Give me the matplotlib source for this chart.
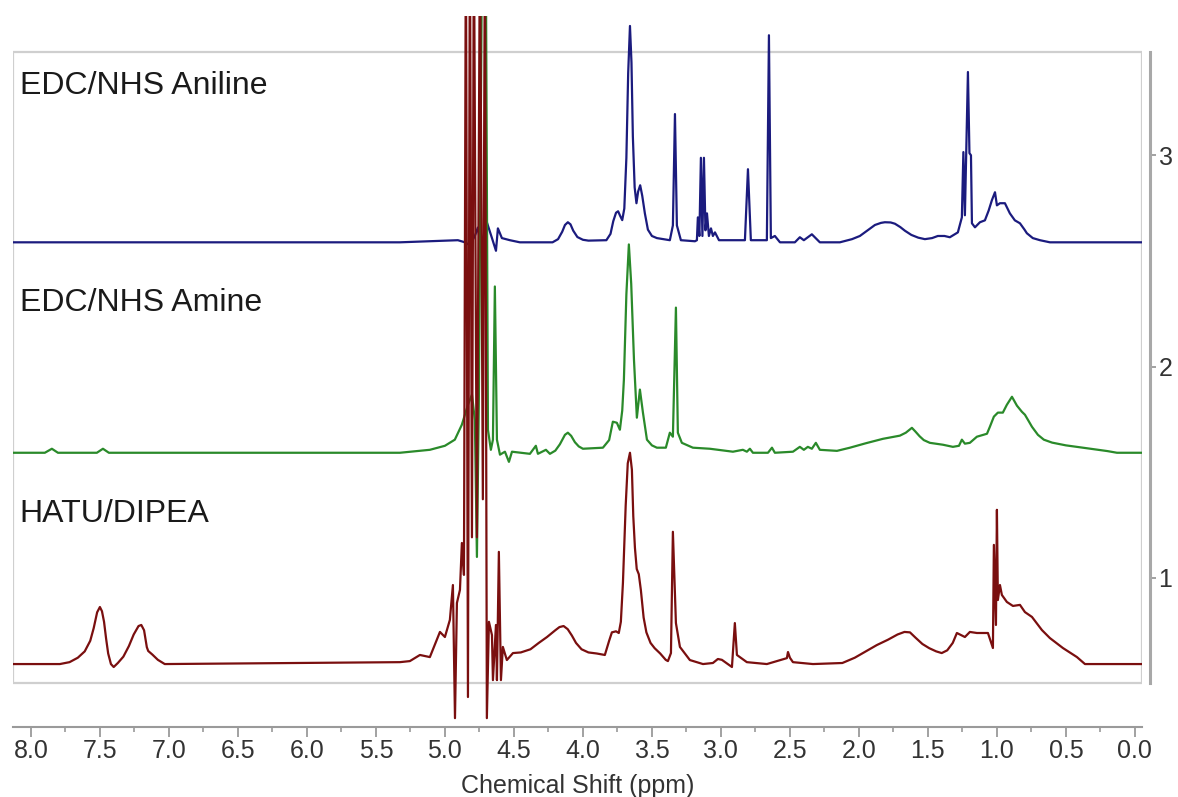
import numpy as np
import matplotlib
matplotlib.use("Agg")
import matplotlib.pyplot as plt
from matplotlib.patches import Rectangle
import matplotlib.transforms as mtransforms

plt.rcParams['font.family'] = ['Liberation Sans', 'DejaVu Sans']

# traces: (chemical shift in ppm, height above the trace baseline)
aniline_pts = [
    (8.130, 0.0), (5.326, 0.0), (4.906, 0.010), (4.855, 0.0), (4.819, -0.014),
    (4.783, 0.030), (4.761, 0.070), (4.739, -0.020), (4.696, 0.095), (4.659, 0.020),
    (4.630, -0.040), (4.616, 0.066), (4.587, 0.020), (4.529, 0.010), (4.457, 0.0),
    (4.220, 0.0), (4.180, 0.015), (4.150, 0.050), (4.130, 0.082), (4.109, 0.095),
    (4.090, 0.085), (4.070, 0.055), (4.040, 0.025), (4.000, 0.012), (3.960, 0.008),
    (3.830, 0.010), (3.800, 0.040), (3.780, 0.100), (3.760, 0.140), (3.745, 0.147),
    (3.730, 0.125), (3.715, 0.105), (3.700, 0.160), (3.685, 0.400), (3.672, 0.800),
    (3.659, 1.024), (3.648, 0.850), (3.638, 0.500), (3.625, 0.260), (3.612, 0.185),
    (3.600, 0.240), (3.585, 0.270), (3.570, 0.220), (3.551, 0.137), (3.529, 0.060),
    (3.500, 0.030), (3.464, 0.020), (3.370, 0.010), (3.348, 0.080), (3.333, 0.607),
    (3.319, 0.080), (3.290, 0.010), (3.188, 0.005), (3.174, 0.010), (3.167, 0.118),
    (3.156, 0.030), (3.145, 0.400), (3.134, 0.030), (3.123, 0.400), (3.112, 0.057),
    (3.101, 0.137), (3.087, 0.030), (3.072, 0.066), (3.058, 0.030), (3.043, 0.047),
    (3.014, 0.010), (2.826, 0.010), (2.804, 0.346), (2.783, 0.010), (2.667, 0.010),
    (2.652, 0.980), (2.638, 0.020), (2.609, 0.030), (2.572, 0.0), (2.464, 0.0),
    (2.428, 0.024), (2.399, 0.010), (2.341, 0.038), (2.283, 0.0), (2.138, 0.0),
    (2.050, 0.015), (1.993, 0.030), (1.930, 0.060), (1.884, 0.082), (1.840, 0.092),
    (1.812, 0.095), (1.770, 0.094), (1.739, 0.088), (1.700, 0.072), (1.667, 0.055),
    (1.620, 0.035), (1.570, 0.022), (1.522, 0.015), (1.470, 0.020), (1.428, 0.030),
    (1.380, 0.030), (1.341, 0.024), (1.283, 0.047), (1.254, 0.118), (1.243, 0.427),
    (1.232, 0.128), (1.210, 0.806), (1.199, 0.422), (1.188, 0.412), (1.181, 0.090),
    (1.159, 0.071), (1.123, 0.095), (1.087, 0.104), (1.060, 0.150), (1.036, 0.200),
    (1.014, 0.237), (1.000, 0.175), (0.978, 0.185), (0.942, 0.185), (0.906, 0.137),
    (0.870, 0.104), (0.833, 0.090), (0.800, 0.060), (0.783, 0.043), (0.740, 0.020),
    (0.688, 0.010), (0.616, 0.0), (-0.051, 0.0),
]

amine_pts = [
    (8.130, 0.0), (7.899, 0.0), (7.848, 0.019), (7.804, 0.0), (7.522, 0.0),
    (7.478, 0.019), (7.435, 0.0), (5.326, 0.0), (5.109, 0.014), (5.000, 0.033),
    (4.928, 0.062), (4.877, 0.133), (4.833, 0.227), (4.804, 0.275), (4.783, 0.156),
    (4.768, -0.493), (4.754, 0.251), (4.732, 2.300), (4.703, 2.300), (4.688, 0.109),
    (4.667, 0.014), (4.652, 0.062), (4.638, 0.787), (4.623, 0.062), (4.601, -0.009),
    (4.565, 0.005), (4.536, -0.043), (4.514, 0.005), (4.384, -0.005), (4.341, 0.033),
    (4.326, -0.005), (4.268, 0.014), (4.239, -0.005), (4.200, 0.010), (4.167, 0.040),
    (4.130, 0.085), (4.109, 0.095), (4.085, 0.080), (4.058, 0.050), (4.030, 0.030),
    (4.000, 0.019), (3.855, 0.024), (3.810, 0.060), (3.783, 0.147), (3.754, 0.142),
    (3.732, 0.109), (3.715, 0.200), (3.703, 0.346), (3.685, 0.750), (3.667, 0.986),
    (3.650, 0.800), (3.630, 0.441), (3.609, 0.166), (3.587, 0.299), (3.565, 0.190),
    (3.536, 0.062), (3.500, 0.035), (3.464, 0.024), (3.399, 0.024), (3.370, 0.095),
    (3.348, 0.076), (3.326, 0.687), (3.312, 0.095), (3.283, 0.047), (3.203, 0.024),
    (3.080, 0.019), (2.913, 0.005), (2.841, 0.014), (2.812, 0.005), (2.790, 0.019),
    (2.768, 0.0), (2.659, 0.0), (2.630, 0.024), (2.609, 0.0), (2.478, 0.005),
    (2.428, 0.028), (2.399, 0.014), (2.370, 0.028), (2.341, 0.019), (2.312, 0.047),
    (2.283, 0.014), (2.159, 0.009), (2.065, 0.024), (1.950, 0.045), (1.826, 0.066),
    (1.703, 0.081), (1.660, 0.095), (1.616, 0.118), (1.590, 0.100), (1.560, 0.078),
    (1.530, 0.060), (1.486, 0.047), (1.391, 0.038), (1.319, 0.028), (1.275, 0.033),
    (1.254, 0.062), (1.232, 0.043), (1.196, 0.047), (1.145, 0.076), (1.072, 0.090),
    (1.051, 0.123), (1.022, 0.171), (0.993, 0.190), (0.957, 0.190), (0.928, 0.227),
    (0.891, 0.265), (0.855, 0.223), (0.819, 0.194), (0.797, 0.180), (0.770, 0.150),
    (0.746, 0.123), (0.703, 0.085), (0.660, 0.062), (0.600, 0.048), (0.500, 0.035),
    (0.377, 0.024), (0.200, 0.008), (0.130, 0.0), (-0.051, 0.0),
]

hatu_pts = [
    (8.130, 0.0), (7.790, 0.0), (7.720, 0.009), (7.660, 0.030), (7.610, 0.060),
    (7.570, 0.110), (7.545, 0.170), (7.520, 0.245), (7.500, 0.270), (7.485, 0.250),
    (7.470, 0.200), (7.455, 0.120), (7.440, 0.050), (7.420, 0.000), (7.400, -0.014),
    (7.370, 0.005), (7.330, 0.035), (7.290, 0.085), (7.255, 0.140), (7.220, 0.180),
    (7.200, 0.185), (7.180, 0.160), (7.160, 0.080), (7.150, 0.062), (7.120, 0.045),
    (7.080, 0.020), (7.030, 0.0), (5.326, 0.009), (5.254, 0.014), (5.181, 0.043),
    (5.109, 0.033), (5.036, 0.152), (5.000, 0.128), (4.964, 0.209), (4.942, 0.374),
    (4.927, -0.256), (4.913, 0.289), (4.891, 0.351), (4.877, 0.573), (4.862, 0.422),
    (4.848, 3.500), (4.833, -0.156), (4.819, 3.500), (4.804, 0.600), (4.790, 3.500),
    (4.768, 0.600), (4.746, 3.500), (4.725, 0.780), (4.710, 3.500), (4.696, -0.256),
    (4.681, 0.200), (4.659, 0.137), (4.652, -0.076), (4.630, 0.185), (4.623, -0.076),
    (4.609, 0.531), (4.594, -0.076), (4.580, 0.081), (4.551, 0.019), (4.507, 0.052),
    (4.450, 0.055), (4.380, 0.070), (4.320, 0.100), (4.260, 0.128), (4.200, 0.160),
    (4.170, 0.175), (4.140, 0.180), (4.110, 0.165), (4.080, 0.135), (4.050, 0.100),
    (4.010, 0.070), (3.960, 0.055), (3.900, 0.050), (3.841, 0.043), (3.810, 0.110),
    (3.790, 0.150), (3.760, 0.155), (3.740, 0.147), (3.725, 0.200), (3.710, 0.384),
    (3.690, 0.750), (3.675, 0.950), (3.659, 1.000), (3.645, 0.920), (3.635, 0.700),
    (3.623, 0.550), (3.610, 0.450), (3.595, 0.425), (3.580, 0.350), (3.560, 0.220),
    (3.540, 0.150), (3.510, 0.100), (3.480, 0.075), (3.440, 0.050), (3.400, 0.020),
    (3.384, 0.014), (3.362, 0.052), (3.348, 0.626), (3.326, 0.194), (3.297, 0.081),
    (3.225, 0.019), (3.130, 0.0), (3.058, 0.005), (3.022, 0.024), (2.993, 0.020),
    (2.920, -0.014), (2.899, 0.194), (2.884, 0.043), (2.812, 0.009), (2.667, 0.0),
    (2.522, 0.028), (2.514, 0.057), (2.500, 0.030), (2.478, 0.009), (2.333, 0.0),
    (2.120, 0.005), (2.030, 0.030), (1.950, 0.060), (1.870, 0.090), (1.790, 0.115),
    (1.720, 0.140), (1.670, 0.152), (1.630, 0.150), (1.590, 0.125), (1.540, 0.095),
    (1.490, 0.075), (1.440, 0.060), (1.400, 0.052), (1.360, 0.065), (1.320, 0.100),
    (1.290, 0.147), (1.232, 0.128), (1.196, 0.152), (1.145, 0.147), (1.065, 0.147),
    (1.029, 0.076), (1.022, 0.564), (1.007, 0.185), (1.000, 0.730), (0.993, 0.303),
    (0.978, 0.374), (0.964, 0.327), (0.928, 0.294), (0.884, 0.275), (0.833, 0.280),
    (0.797, 0.246), (0.746, 0.223), (0.674, 0.161), (0.616, 0.123), (0.522, 0.076),
    (0.420, 0.033), (0.362, 0.0), (-0.051, 0.0),
]

names = ["EDC/NHS Aniline", "EDC/NHS Amine", "HATU/DIPEA"]
offsets = [2.588, 1.592, 0.592]
colors = ["#1b1b7e", "#2a8a2a", "#7a0f0f"]
label_y = [3.33, 2.30, 1.30]

fig = plt.figure(figsize=(11.78, 7.97), dpi=100)
ax = fig.add_axes([0.011, 0.0878, 0.9584, 0.8921])

for pts, off, col in zip([aniline_pts, amine_pts, hatu_pts], offsets, colors):
    ppm = np.array([p[0] for p in pts])
    inten = np.array([p[1] for p in pts])
    ax.plot(ppm, inten + off, color=col, lw=1.6, zorder=3)

ax.set_xlim(8.130, -0.051)
ax.set_ylim(0.294, 3.659)

# light grey frame around the spectra
trans = mtransforms.blended_transform_factory(ax.transAxes, ax.transData)
ax.add_patch(Rectangle((0, 0.502), 1, 3.488 - 0.502, transform=trans,
                       fill=False, edgecolor="#cfcfcf", lw=1.6, zorder=1))

for name, ly in zip(names, label_y):
    ax.text(8.08, ly, name, fontsize=23, color="#1a1a1a", va="center", ha="left")

ax.spines['top'].set_visible(False)
ax.spines['left'].set_visible(False)
ax.spines['bottom'].set_color("#9a9a9a")
ax.spines['bottom'].set_linewidth(1.5)
ax.spines['right'].set_color("#a8a8a8")
ax.spines['right'].set_linewidth(2.2)
ax.spines['right'].set_position(('outward', 6))
ax.spines['right'].set_bounds(0.502, 3.488)

ticks = np.arange(0, 8.01, 0.5)
ax.set_xticks(ticks)
ax.set_xticklabels(["%.1f" % v for v in ticks])
ax.set_xticks(np.arange(0.25, 8.1, 0.5), minor=True)
ax.tick_params(axis='x', which='major', length=7, width=1.3, color="#9a9a9a",
               labelsize=18, labelcolor="#333333", pad=1.5)
ax.tick_params(axis='x', which='minor', length=3.5, width=1.2, color="#9a9a9a")

ax.yaxis.tick_right()
ax.set_yticks([1, 2, 3])
ax.tick_params(axis='y', which='major', length=4, width=1.3, color="#9a9a9a",
               labelsize=18, labelcolor="#333333", pad=2)

ax.set_xlabel("Chemical Shift (ppm)", fontsize=18, color="#333333")
ax.xaxis.set_label_coords(0.5, -0.066)

fig.savefig("out.png", dpi=100)
